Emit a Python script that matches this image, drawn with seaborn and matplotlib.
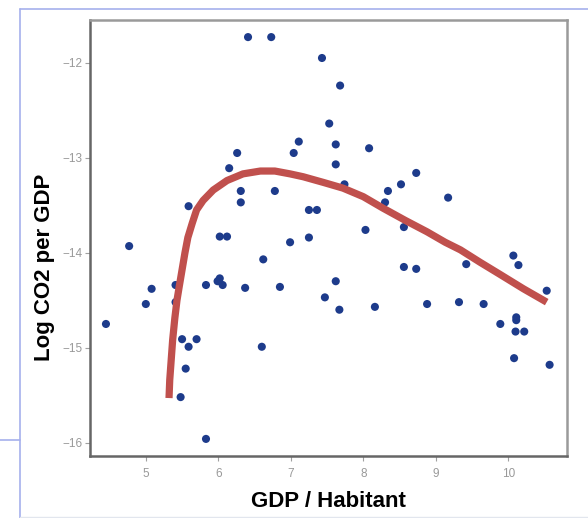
import matplotlib
matplotlib.use("Agg")
import matplotlib.pyplot as plt
from matplotlib.lines import Line2D
import seaborn as sns
import pandas as pd

# GDP per inhabitant (log) and log CO2 per GDP for each country
gdp = [6.41, 6.73, 7.43, 7.68, 7.53, 7.62, 7.62, 8.08, 7.11, 7.04,
       6.26, 6.15, 6.31, 6.31, 6.78, 5.59, 4.77, 6.02, 6.12, 6.99,
       6.62, 7.74, 7.25, 7.36, 7.25, 8.03, 8.34, 8.30, 8.52, 8.73,
       9.17, 8.56, 4.45, 5.00, 5.08, 5.41, 5.41, 5.83, 6.02, 5.99,
       6.06, 6.37, 6.85, 5.50, 5.59, 5.70, 6.60, 5.55, 5.48, 5.83,
       7.62, 7.47, 7.67, 8.16, 8.56, 8.73, 8.88, 9.32, 9.42, 9.66,
       9.89, 10.11, 10.11, 10.10, 10.22, 10.08, 10.57, 10.53, 10.07, 10.14]
co2 = [-11.73, -11.73, -11.95, -12.24, -12.64, -12.86, -13.07, -12.90, -12.83, -12.95,
       -12.95, -13.11, -13.35, -13.47, -13.35, -13.51, -13.93, -13.83, -13.83, -13.89,
       -14.07, -13.28, -13.55, -13.55, -13.84, -13.76, -13.35, -13.47, -13.28, -13.16,
       -13.42, -13.73, -14.75, -14.54, -14.38, -14.34, -14.52, -14.34, -14.27, -14.30,
       -14.34, -14.37, -14.36, -14.91, -14.99, -14.91, -14.99, -15.22, -15.52, -15.96,
       -14.30, -14.47, -14.60, -14.57, -14.15, -14.17, -14.54, -14.52, -14.12, -14.54,
       -14.75, -14.68, -14.71, -14.83, -14.83, -15.11, -15.18, -14.40, -14.03, -14.13]

# Fitted trend
fit_gdp = [5.32, 5.33, 5.35, 5.37, 5.40, 5.43, 5.46, 5.50, 5.54, 5.58,
           5.64, 5.70, 5.79, 5.93, 6.12, 6.34, 6.58, 6.78, 6.99, 7.17,
           7.45, 7.72, 8.00, 8.27, 8.58, 8.88, 9.13, 9.34, 9.61, 9.89,
           10.21, 10.53]
fit_co2 = [-15.53, -15.34, -15.13, -14.92, -14.69, -14.50, -14.36, -14.18, -14.00, -13.84,
           -13.69, -13.55, -13.45, -13.34, -13.24, -13.17, -13.14, -13.14, -13.17, -13.20,
           -13.26, -13.32, -13.41, -13.53, -13.66, -13.78, -13.89, -13.97, -14.10, -14.23,
           -14.38, -14.52]

x_ticks = [5, 6, 7, 8, 9, 10]
y_ticks = [-16, -15, -14, -13, -12]

points = pd.DataFrame({"gdp": gdp, "co2": co2})
trend = pd.DataFrame({"gdp": fit_gdp, "co2": fit_co2})

sns.set_theme(style="white")
plt.rcParams["font.family"] = ["Liberation Sans Narrow", "Liberation Sans", "DejaVu Sans"]

fig = plt.figure(figsize=(5.88, 5.18), dpi=100)
ax = fig.add_axes([90 / 588, 1 - 456 / 518, 477 / 588, 436 / 518])

sns.scatterplot(data=points, x="gdp", y="co2", ax=ax, color="#1d3b8b",
                s=34, edgecolor="none", zorder=2)
sns.lineplot(data=trend, x="gdp", y="co2", ax=ax, sort=False, color="#c0504d",
             linewidth=5.2, zorder=3, estimator=None,
             solid_capstyle="butt", solid_joinstyle="round")

ax.set_xlim(4.23, 10.81)
ax.set_ylim(-16.14, -11.55)
ax.set_xticks(x_ticks)
ax.set_yticks(y_ticks)
ax.set_xticklabels([str(t) for t in x_ticks])
ax.set_yticklabels(["\u2212" + str(-t) for t in y_ticks])
ax.tick_params(axis="both", which="both", length=3.5, width=0.8, color="#a0a0a0",
               labelsize=8.5, labelcolor="#999999", pad=2, direction="out",
               bottom=True, left=True)
ax.tick_params(axis="x", pad=5)

for side in ["top", "right", "left", "bottom"]:
    ax.spines[side].set_visible(True)
    ax.spines[side].set_linewidth(1.8)
for side in ["top", "right"]:
    ax.spines[side].set_color("#9a9a9a")
for side in ["left", "bottom"]:
    ax.spines[side].set_color("#666666")

ax.set_xlabel("GDP / Habitant", fontsize=16, fontweight="bold", color="black", labelpad=8)
ax.set_ylabel("Log CO2 per GDP", fontsize=16, fontweight="bold", color="black")
ax.yaxis.set_label_coords(-0.073, 0.433)

# Surrounding slide frame
frame_color = "#a6b0ec"
fig.add_artist(Line2D([20 / 588, 1], [1 - 9 / 518, 1 - 9 / 518], color=frame_color, lw=1.2))
fig.add_artist(Line2D([20 / 588, 20 / 588], [0, 1 - 9 / 518], color=frame_color, lw=1.2))
fig.add_artist(Line2D([0, 20 / 588], [1 - 440 / 518, 1 - 440 / 518], color=frame_color, lw=1.2))
fig.add_artist(Line2D([20 / 588, 1], [1.5 / 518, 1.5 / 518], color="#e2e6ee", lw=1.0))

fig.savefig("out.png", dpi=100)
